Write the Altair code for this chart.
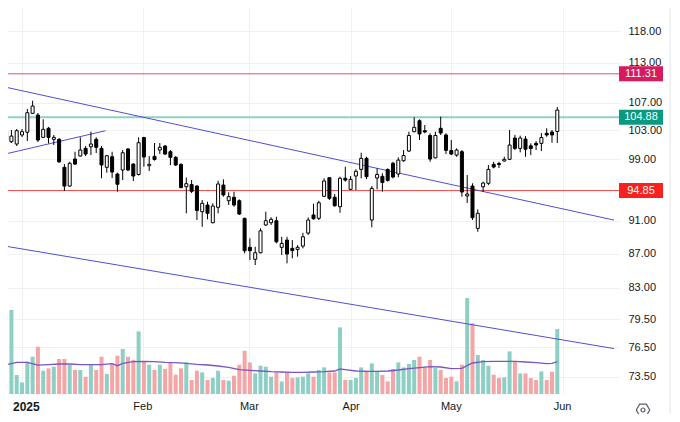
import altair as alt
import pandas as pd

# ---------------- data ----------------
opens = [102.92, 101.42, 101.10, 102.36, 102.74, 105.44, 105.20, 102.03, 103.30, 101.75,
         101.75, 97.92, 95.44, 99.04, 99.45, 100.50, 100.72, 101.75, 100.50, 97.92,
         99.35, 97.03, 97.56, 100.41, 98.36, 96.96, 102.00, 98.13, 99.41, 100.27,
         100.82, 100.04, 99.27, 98.32, 95.35, 95.64, 95.44, 92.14, 92.99, 90.76,
         92.70, 95.57, 93.54, 93.98, 93.54, 91.31, 87.75, 86.32, 87.10, 90.48,
         90.76, 91.01, 87.75, 88.63, 87.63, 87.50, 87.90, 89.48, 91.73, 91.31,
         94.11, 96.54, 93.98, 92.77, 96.46, 95.01, 96.76, 97.65, 99.13, 91.10,
         96.50, 96.72, 97.63, 98.46, 97.03, 98.81, 100.13, 102.82, 104.38, 102.96,
         102.29, 99.20, 103.30, 102.36, 100.20, 99.58, 100.04, 94.15, 95.44, 90.06,
         95.35, 95.80, 98.32, 98.43, 98.77, 99.00, 101.93, 100.50, 101.79, 100.85,
         101.19, 101.19, 102.60, 102.78, 102.85]
highs = [103.63, 103.06, 103.20, 103.20, 106.07, 107.28, 105.49, 104.58, 103.49, 102.36,
         101.93, 98.36, 98.67, 100.04, 102.03, 100.82, 102.82, 102.03, 100.82, 99.58,
         100.04, 97.20, 100.27, 100.55, 98.46, 102.03, 102.11, 99.45, 101.24, 101.24,
         100.96, 100.27, 99.45, 98.46, 96.56, 96.23, 95.57, 93.63, 93.41, 93.21,
         96.14, 96.32, 94.62, 94.70, 93.72, 91.39, 88.84, 87.82, 90.06, 92.14,
         91.44, 91.51, 89.03, 89.03, 88.63, 88.02, 89.52, 91.44, 93.16, 93.54,
         96.46, 96.63, 94.40, 96.67, 98.00, 96.76, 97.65, 99.90, 99.35, 95.44,
         97.79, 97.12, 97.79, 98.67, 99.27, 100.27, 102.82, 104.87, 104.58, 103.77,
         102.60, 102.82, 104.96, 102.60, 101.65, 100.50, 100.27, 96.89, 95.80, 92.44,
         96.01, 98.23, 98.67, 98.67, 99.35, 103.06, 102.36, 102.26, 102.21, 101.19,
         101.51, 102.64, 103.30, 103.06, 106.36]
lows = [101.24, 101.24, 100.82, 102.07, 101.51, 105.34, 101.37, 101.93, 101.19, 100.96,
        98.50, 94.79, 95.35, 98.23, 99.38, 99.45, 99.58, 99.86, 96.46, 97.20,
        96.50, 94.70, 96.23, 97.43, 96.10, 96.83, 98.00, 97.43, 98.83, 99.72,
        99.58, 98.23, 98.10, 95.12, 91.94, 94.53, 91.10, 90.26, 91.19, 90.69,
        91.94, 94.06, 92.99, 92.77, 91.73, 87.03, 86.24, 85.65, 87.03, 90.35,
        90.48, 88.23, 86.83, 85.85, 86.44, 86.63, 87.63, 89.24, 91.14, 91.10,
        94.02, 93.63, 92.77, 92.01, 96.01, 94.92, 94.92, 96.46, 96.36, 90.19,
        95.01, 94.70, 96.01, 96.46, 96.59, 98.67, 99.99, 102.74, 101.65, 102.60,
        98.67, 99.13, 102.36, 99.72, 99.58, 99.35, 94.06, 93.25, 91.10, 89.64,
        94.70, 95.57, 97.79, 97.83, 98.67, 98.90, 100.27, 99.95, 99.35, 99.58,
        100.27, 100.13, 102.11, 101.28, 101.24]
closes = [101.65, 102.21, 102.96, 102.82, 105.53, 106.50, 101.65, 103.16, 102.03, 102.03,
          98.67, 95.44, 98.46, 98.36, 100.27, 99.72, 101.10, 100.64, 98.23, 99.49,
          97.29, 95.67, 99.90, 97.56, 96.76, 101.28, 99.31, 98.32, 98.97, 100.64,
          99.72, 99.27, 98.23, 95.25, 95.75, 94.75, 92.29, 93.21, 91.94, 92.86,
          95.71, 94.28, 94.06, 92.99, 91.85, 87.34, 87.34, 87.10, 89.76, 91.01,
          91.19, 88.42, 88.23, 86.95, 87.36, 87.75, 89.03, 91.10, 91.26, 93.28,
          96.10, 93.85, 92.90, 96.46, 96.23, 96.32, 97.39, 99.13, 96.67, 95.14,
          96.96, 95.90, 96.19, 96.63, 98.90, 99.52, 102.29, 103.44, 102.50, 102.78,
          99.04, 102.29, 102.64, 100.23, 99.72, 100.27, 94.66, 94.40, 91.39, 91.94,
          95.84, 97.65, 97.96, 98.29, 99.00, 100.96, 100.50, 101.93, 100.38, 100.48,
          100.96, 102.00, 102.36, 102.36, 105.92]
volumes = [1.33, 8.40, 1.90, 1.16, 3.23, 3.73, 4.73, 2.33, 2.56, 2.73,
           3.50, 3.50, 2.93, 2.40, 2.40, 1.73, 3.00, 2.40, 3.73, 2.00,
           3.00, 3.83, 4.50, 3.73, 3.40, 6.26, 3.26, 2.93, 2.40, 2.93,
           2.50, 3.16, 1.93, 2.56, 3.16, 1.40, 2.33, 2.16, 1.40, 1.60,
           2.33, 1.40, 1.33, 1.83, 2.93, 4.33, 3.16, 2.06, 2.83, 2.73,
           1.73, 2.16, 1.26, 2.16, 1.60, 1.66, 1.73, 2.06, 1.73, 2.40,
           2.66, 2.16, 2.16, 6.66, 1.40, 1.40, 1.60, 2.66, 2.33, 3.06,
           2.26, 1.90, 1.26, 2.50, 3.16, 2.66, 3.00, 3.40, 3.73, 2.66,
           3.40, 2.60, 2.40, 1.60, 1.73, 1.26, 2.93, 9.60, 7.06, 3.90,
           3.40, 2.83, 1.93, 1.60, 1.66, 4.26, 3.26, 2.06, 2.06, 1.60,
           1.40, 2.26, 1.40, 2.23, 6.50]

ma_index = [0, 2, 4, 6, 8, 10, 12, 14, 16, 18, 20, 21, 22, 24, 26, 28, 30, 32, 34, 36,
            38, 40, 42, 44, 46, 48, 50, 52, 54, 56, 58, 60, 62, 63, 64, 66, 68, 70, 72, 74,
            76, 78, 80, 82, 84, 86, 87, 88, 90, 92, 94, 96, 98, 100, 102, 103, 104]
ma_values = [2.93, 3.16, 3.16, 2.88, 2.93, 3.00, 3.00, 2.93, 2.93, 2.93, 3.03, 2.83, 3.06, 3.23,
             3.26, 3.23, 3.16, 3.13, 3.06, 2.96, 2.90, 2.80, 2.66, 2.43, 2.36, 2.30, 2.23, 2.20,
             2.16, 2.16, 2.20, 2.23, 2.30, 2.50, 2.43, 2.30, 2.26, 2.26, 2.30, 2.40, 2.53, 2.63,
             2.73, 2.70, 2.53, 2.56, 2.83, 3.10, 3.23, 3.26, 3.26, 3.26, 3.20, 3.13, 3.03, 3.06,
             3.23]

year_labels = ["2025"]
year_pos = [3]
month_labels = ["Feb", "Mar", "Apr", "May", "Jun"]
month_pos = [25.8, 45.9, 65.1, 84, 105]

price_ticks = [73.5, 76.5, 79.5, 83, 87, 91, 99, 103, 107, 113, 118, 123]

level_values = [111.31, 104.88, 94.85]
level_line_colors = ["#db4d8e", "#8fd1c4", "#ef4a4a"]
level_box_colors = ["#d81b60", "#089981", "#f7211f"]
level_widths = [1, 2, 1]

trend_ids = ["A", "A", "B", "B", "C", "C"]
trend_x = [-0.19, 114.70, -0.19, 114.70, -0.19, 18.75]
trend_y = [109.31, 91.09, 87.90, 76.38, 99.72, 102.96]

# ---------------- tables ----------------
n = len(opens)
candles = pd.DataFrame({"i": list(range(n)), "open": opens, "high": highs,
                        "low": lows, "close": closes, "vol": volumes})
ma_df = pd.DataFrame({"i": ma_index, "ma": ma_values})
levels = pd.DataFrame({"level": level_values, "line": level_line_colors,
                       "box": level_box_colors, "w": level_widths,
                       "txt": [f"{v:.2f}" for v in level_values]})
trends = pd.DataFrame({"id": trend_ids, "i": trend_x, "p": trend_y})
years = pd.DataFrame({"i": year_pos, "label": year_labels})
months = pd.DataFrame({"i": month_pos, "label": month_labels})
one = pd.DataFrame({"a": [0]})

FONT = "Liberation Sans"
GRID = "#eef0f4"

xscale = alt.Scale(domain=[1.299, 114.70], nice=False, zero=False)
yscale = alt.Scale(type="log", domain=[71.77, 121.82], nice=False)
xaxis = alt.Axis(values=month_pos + year_pos, labels=False, ticks=False, domain=False,
                 grid=True, gridColor=GRID, title=None)
yaxis = alt.Axis(orient="right", values=price_ticks, format=".2f", labelFont=FONT,
                 labelFontSize=11, labelColor="#131722", labelPadding=9, ticks=False,
                 tickSize=0, domain=False, grid=True, gridColor=GRID, title=None,
                 labelAlign="left", labelBaseline="middle", labelOverlap=False,
                 labelFlush=False)

X = alt.X("i:Q", scale=xscale, axis=xaxis)

# volume pane (own scale)
vscale = alt.Scale(domain=[0, 38.6], nice=False, zero=True)
vol_bars = alt.Chart(candles).mark_bar(size=4, clip=True).encode(
    x=X,
    y=alt.Y("vol:Q", scale=vscale, axis=None, stack=None),
    color=alt.condition("datum.close >= datum.open", alt.value("#8dcfc4"), alt.value("#f5a5a5")),
)
vol_ma = alt.Chart(ma_df).mark_line(color="#7a55c4", strokeWidth=1.3, clip=True).encode(
    x=X, y=alt.Y("ma:Q", scale=vscale, axis=None)
)
vol_layer = alt.layer(vol_bars, vol_ma)

# price pane
hlines = alt.Chart(levels).mark_rule().encode(
    y=alt.Y("level:Q", scale=yscale, axis=yaxis),
    color=alt.Color("line:N", scale=None),
    strokeWidth=alt.StrokeWidth("w:Q", scale=None),
)
trend = alt.Chart(trends).mark_line(color="#4f4fd6", strokeWidth=1, clip=True).encode(
    x=X, y=alt.Y("p:Q", scale=yscale, axis=yaxis), detail="id:N"
)
wicks = alt.Chart(candles).mark_rule(color="black", strokeWidth=1, clip=True).encode(
    x=X, y=alt.Y("low:Q", scale=yscale, axis=yaxis), y2="high:Q"
)
bodies = alt.Chart(candles).mark_bar(size=3, stroke="black", strokeWidth=1, clip=True).encode(
    x=X, y=alt.Y("open:Q", scale=yscale, axis=yaxis), y2="close:Q",
    fill=alt.condition("datum.close >= datum.open", alt.value("white"), alt.value("black")),
)
boxes = alt.Chart(levels).mark_rule(strokeWidth=15, strokeCap="butt").encode(
    x=alt.value(611), x2=alt.value(655),
    y=alt.Y("level:Q", scale=yscale, axis=yaxis),
    color=alt.Color("box:N", scale=None),
)
box_text = alt.Chart(levels).mark_text(font=FONT, fontSize=11, color="white",
                                       align="center", baseline="middle").encode(
    x=alt.value(633), y=alt.Y("level:Q", scale=yscale, axis=yaxis), text="txt:N"
)
year_text = alt.Chart(years).mark_text(font=FONT, fontSize=12, fontWeight="bold",
                                       color="#131722", baseline="middle",
                                       align="left", dx=-9).encode(
    x=X, y=alt.value(399), text="label:N"
)
month_text = alt.Chart(months).mark_text(font=FONT, fontSize=11, color="#131722",
                                         baseline="middle").encode(
    x=X, y=alt.value(399), text="label:N"
)
hexpath = "M-1,0 L-0.5,-0.866 L0.5,-0.866 L1,0 L0.5,0.866 L-0.5,0.866 Z"
gear = alt.Chart(one).mark_point(shape=hexpath, size=180, filled=False,
                                 stroke="#131722", strokeWidth=1.2).encode(
    x=alt.value(635), y=alt.value(402)
)
gear_dot = alt.Chart(one).mark_point(shape="circle", size=16, filled=False,
                                     stroke="#131722", strokeWidth=1.2).encode(
    x=alt.value(635), y=alt.value(402)
)
border = alt.Chart(one).mark_rule(color="#e0e3eb", strokeWidth=1).encode(
    x=alt.value(662), y=alt.value(-8), y2=alt.value(414)
)

price_layer = alt.layer(hlines, trend, wicks, bodies, boxes, box_text,
                        year_text, month_text, gear, gear_dot, border)

chart = alt.layer(vol_layer, price_layer).resolve_scale(y="independent").properties(
    width=611, height=386,
    autosize=alt.AutoSizeParams(type="none"),
    padding={"left": 0, "top": 0, "right": 53, "bottom": 20},
    background="white",
).configure_view(stroke=None)

chart.save("out.html", embed_options={"renderer": "svg", "actions": False})
